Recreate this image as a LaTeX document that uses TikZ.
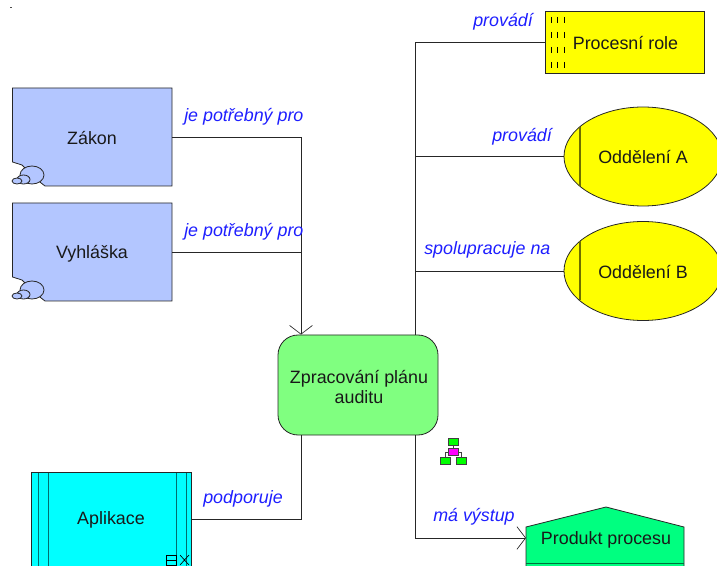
\documentclass[tikz,border=0pt]{standalone}
\usepackage{fontspec}
\setmainfont{Liberation Sans}
\usetikzlibrary{arrows.meta}
\definecolor{lawblue}{RGB}{179,198,255}
\definecolor{procgreen}{RGB}{128,255,128}
\definecolor{prodgreen}{RGB}{0,255,128}
\definecolor{labelblue}{RGB}{30,30,255}
\definecolor{pureyellow}{RGB}{255,255,0}
\definecolor{purecyan}{RGB}{0,255,255}
\definecolor{puregreen}{RGB}{0,255,0}
\definecolor{puremagenta}{RGB}{255,0,255}
\definecolor{darkteal}{RGB}{0,110,110}
\definecolor{darkolive}{RGB}{110,110,0}
\definecolor{darkprod}{RGB}{0,110,60}
\tikzset{
  x=0.75pt,y=-0.75pt,
  box/.style={draw=black!85,line width=0.6pt},
  conn/.style={draw=black!85,line width=0.7pt},
  arrowed/.style={conn,-{Straight Barb[length=6.5pt,width=17pt,line width=0.5pt]}},
  txt/.style={font=\fontsize{13.4}{15}\selectfont,align=center,inner sep=0pt,text=black!90},
  rel/.style={font=\fontsize{13.4}{15}\selectfont\itshape,text=labelblue,inner sep=0pt},
  tick/.style={draw=black,line width=0.6pt},
  mini/.style={draw=black!75,line width=0.5pt}
}
\newcommand{\cloudmark}[2]{%
  \begin{scope}[shift={(#1,#2)}]
    \draw[box,fill=lawblue] (32,175) ellipse [x radius=12,y radius=9];
    \draw[box,fill=lawblue] (23.5,179.5) ellipse [x radius=6.5,y radius=4.5];
    \draw[box,fill=lawblue] (17,181) ellipse [x radius=5,y radius=3];
  \end{scope}}
\begin{document}
\begin{tikzpicture}
\useasboundingbox (0,0) rectangle (717,566);
\clip (0,0) rectangle (717,566);
\fill[black!70] (10,7.5) rectangle (12,8.5);

% connector anchors
\coordinate (zakonJ) at (301,137);
\coordinate (vyhlJ) at (301,252);
\coordinate (rightTrunk) at (415,335);

% nodes
\path[box,fill=lawblue] (12.5,88) -- (172,88) -- (172,186) -- (45,186) -- (36,179) -- (22,165) -- (12.5,162) -- cycle;
\cloudmark{0}{0}
\node[txt] (zakon) at (92,138.5) {Zákon};
\coordinate (zakonE) at (172,137);

\path[box,fill=lawblue] (12.5,203) -- (172,203) -- (172,301) -- (45,301) -- (36,294) -- (22,280) -- (12.5,277) -- cycle;
\cloudmark{0}{115}
\node[txt] (vyhlaska) at (92,254) {Vyhláška};
\coordinate (vyhlE) at (172,252);

\node[box,fill=procgreen,shape=rectangle,rounded corners=15pt,
  minimum width=120pt,minimum height=75pt,inner sep=0pt,txt,anchor=center] (proc) at (358,385) {};
\node[txt] (proctext) at (359,387) {Zpracování plánu\\auditu};

\path[box,fill=pureyellow] (545,11) rectangle (704,73);
\foreach \y in {17,32,47,62}
  \foreach \x in {551,557.5,564}
    \draw[tick] (\x,\y) -- (\x,\y+6);
\node[txt] (role) at (625.5,43) {Procesní role};
\coordinate (roleW) at (545,42);

\draw[box,fill=pureyellow] (643,156.5) ellipse [x radius=79,y radius=49.5];
\draw[box,draw=darkolive,line width=0.8pt] (580,127) -- (580,186);
\node[txt] (odda) at (643,157.5) {Oddělení A};
\coordinate (oddaW) at (564,156);

\draw[box,fill=pureyellow] (643,271) ellipse [x radius=79,y radius=49.5];
\draw[box,draw=darkolive,line width=0.8pt] (580,241.5) -- (580,300.5);
\node[txt] (oddb) at (643,272.5) {Oddělení B};
\coordinate (oddbW) at (564,271);

\path[box,fill=purecyan] (31,472) rectangle (191,580);
\draw[draw=darkteal,line width=0.7pt] (38,472) -- (38,580) (48,472) -- (48,580) (176,472) -- (176,580) (186,472) -- (186,580);
\draw[box,draw=black!85,line width=0.6pt] (31,472) -- (191,472);
\node[txt] (apl) at (111,520) {Aplikace};
\coordinate (aplE) at (191,519);
\draw[mini,draw=black] (166,555) rectangle (176,565) (166,560) -- (176,560);
\draw[mini,draw=black] (180,555) -- (189,565) (189,555) -- (180,565);

\path[box,fill=prodgreen] (526,527) -- (606,507) -- (684,527) -- (684,580) -- (526,580) -- cycle;
\draw[box,draw=darkprod] (526,563) -- (684,563);
\node[txt] (prod) at (606,539.5) {Produkt procesu};
\coordinate (prodW) at (526,538);

% hierarchy icon
\draw[mini] (453,446) -- (453,448) (445,457.5) -- (445,452) -- (448,452) (458,452) -- (461,452) -- (461,457.5);
\draw[mini,fill=puregreen] (448,438.5) rectangle (458,445.5);
\draw[mini,fill=puremagenta] (448,448.5) rectangle (458,455.5);
\draw[mini,fill=puregreen] (440,457.5) rectangle (450,464.5);
\draw[mini,fill=puregreen] (456,457.5) rectangle (466,464.5);

% connectors
\draw[conn] (zakonE) -- (zakonJ) -- (301,330);
\draw[arrowed] (vyhlE) -- (vyhlJ) -- (proc.north -| zakonJ);
\draw[conn] (roleW) -- (415,42) -- (rightTrunk);
\draw[conn] (oddaW) -- (415,156);
\draw[conn] (oddbW) -- (415,271);
\draw[conn] (aplE) -- (301,519) -- (proc.south -| zakonJ);
\draw[arrowed] (proc.south -| rightTrunk) -- (415,538) -- (prodW);

% relation labels
\node[rel,anchor=west] at (184,117) {je potřebný pro};
\node[rel,anchor=west] at (184,232) {je potřebný pro};
\node[rel,anchor=west] at (473,22) {provádí};
\node[rel,anchor=west] at (492,137) {provádí};
\node[rel,anchor=west] at (424,250) {spolupracuje na};
\node[rel,anchor=west] at (203,499) {podporuje};
\node[rel,anchor=west] at (433,517) {má výstup};
\end{tikzpicture}
\end{document}
